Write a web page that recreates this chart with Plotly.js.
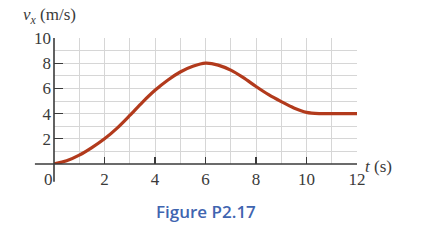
<!DOCTYPE html>
<html><head><meta charset="utf-8">
<script src="https://cdn.plot.ly/plotly-3.0.1.min.js"></script>
<style>html,body{margin:0;padding:0;background:#fff;}#chart{width:423px;height:249px;}</style>
</head><body><div id="chart"></div>
<script>
var tValues = [0,0.5,1,1.5,2,2.5,3,3.5,4,4.5,5,5.5,6,6.5,7,7.5,8,8.5,9,9.5,10,10.5,11,12];
var vValues = [0,0.25,0.7,1.3,2.0,2.85,3.85,4.9,5.85,6.65,7.3,7.75,8,7.85,7.45,6.85,6.15,5.5,4.95,4.45,4.1,4.0,4,4];
var xTicks = [2,4,6,8,10,12];
var yTicks = [2,4,6,8,10];

var serif = '"Liberation Serif", "DejaVu Serif", serif';
var axisCol = '#3a3a3a';
var txtCol = '#3a3a3a';

var trace = {x:tValues, y:vValues, mode:'lines', line:{color:'#b23a1c', width:3.2, shape:'spline', smoothing:0.8}, hoverinfo:'skip'};

var layout = {
  width:423, height:249,
  margin:{l:54, r:66, t:38, b:85},
  paper_bgcolor:'#fff', plot_bgcolor:'#fff',
  font:{family:serif},
  showlegend:false,
  xaxis:{range:[0,12], tickvals:xTicks, ticktext:xTicks.map(String), ticks:'inside', ticklen:7, tickwidth:1.3, tickcolor:axisCol,
    showgrid:true, gridcolor:'#d6d6d6', gridwidth:1,
    minor:{dtick:1, tick0:0, showgrid:true, gridcolor:'#d6d6d6', gridwidth:1, ticks:''},
    showline:false, zeroline:false, ticklabelstandoff:3,
    tickfont:{family:serif, size:17, color:txtCol}, fixedrange:true},
  yaxis:{range:[0,10], tickvals:yTicks, ticktext:yTicks.map(String), ticks:'inside', ticklen:9, tickwidth:1.3, tickcolor:axisCol,
    showgrid:true, gridcolor:'#d6d6d6', gridwidth:1,
    minor:{dtick:1, tick0:0, showgrid:true, gridcolor:'#d6d6d6', gridwidth:1, ticks:''},
    showline:false, zeroline:false, ticklabelstandoff:2,
    tickfont:{family:serif, size:17, color:txtCol}, fixedrange:true},
  shapes:[
    {type:'line', xref:'paper', yref:'paper', x0:-0.063, x1:1, y0:0, y1:0, line:{color:axisCol, width:1.6}},
    {type:'line', xref:'paper', yref:'paper', x0:0, x1:0, y0:-0.14, y1:1, line:{color:axisCol, width:1.6}}
  ],
  annotations:[
    {xref:'paper', yref:'paper', x:0.003, y:-0.035, xanchor:'right', yanchor:'top', text:'0', showarrow:false, font:{family:serif, size:17, color:txtCol}},
    {xref:'paper', yref:'paper', x:-0.11, y:1.075, xanchor:'left', yanchor:'bottom', text:'<i>v<sub>x</sub></i> (m/s)', showarrow:false, font:{family:serif, size:17, color:txtCol}},
    {xref:'paper', yref:'paper', x:1.02, y:-0.02, xanchor:'left', yanchor:'middle', text:'<i>t</i> (s)', showarrow:false, font:{family:serif, size:17, color:txtCol}},
    {xref:'paper', yref:'paper', x:0.5, y:-0.38, xanchor:'center', yanchor:'middle', text:'Figure P2.17', showarrow:false, font:{family:'"Open Sans", sans-serif', size:17, color:'#3f65b0', weight:600}}
  ]
};
Plotly.newPlot('chart', [trace], layout, {staticPlot:true, displayModeBar:false});
</script></body></html>
